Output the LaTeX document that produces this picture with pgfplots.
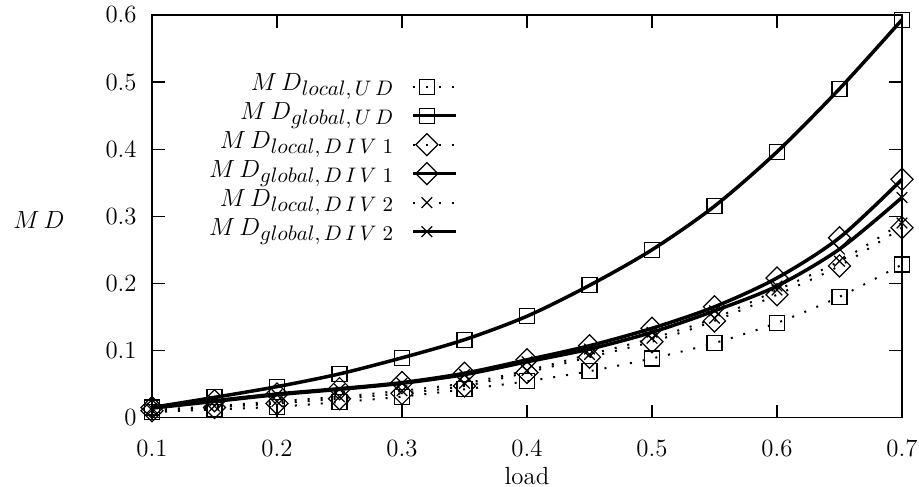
\RequirePackage{fix-cm}
\documentclass[border=0pt]{standalone}
\usepackage{pgfplots}
\pgfplotsset{compat=1.18}
\usepackage{pgfplotstable}

% columns: load, local/global for UD, DIV1, DIV2
\pgfplotstableread{
x     lud    gud    ldA    gdA    ldB    gdB
0.10  0.008  0.015  0.010  0.015  0.011  0.014
0.15  0.012  0.030  0.015  0.025  0.017  0.024
0.20  0.016  0.046  0.021  0.035  0.024  0.034
0.25  0.023  0.065  0.028  0.043  0.031  0.042
0.30  0.031  0.089  0.036  0.052  0.040  0.051
0.35  0.042  0.116  0.047  0.066  0.051  0.064
0.40  0.054  0.151  0.067  0.086  0.070  0.083
0.45  0.069  0.197  0.090  0.107  0.094  0.102
0.50  0.088  0.250  0.113  0.133  0.118  0.127
0.55  0.111  0.315  0.144  0.165  0.148  0.159
0.60  0.141  0.396  0.183  0.208  0.190  0.196
0.65  0.180  0.490  0.226  0.268  0.233  0.251
0.70  0.228  0.593  0.283  0.355  0.290  0.328
}\mdtable

\newcommand\fnt{\fontsize{12.4bp}{14.5bp}\selectfont}
\newcommand\sub[1]{\raisebox{-2.5bp}{\fontsize{10.5bp}{12bp}\selectfont$#1$}}

\begin{document}
\begin{tikzpicture}
\begin{axis}[
    scale only axis,
    width=375bp, height=201.25bp,
    xmin=0.1, xmax=0.7, ymin=0, ymax=0.6,
    xtick={0.1,0.2,0.3,0.4,0.5,0.6,0.7},
    ytick={0,0.1,0.2,0.3,0.4,0.5,0.6},
    tick align=inside,
    major tick length=6.5bp,
    every tick/.style={black, line width=0.6bp},
    axis line style={line width=0.6bp},
    tick label style={font=\fnt},
    label style={font=\fnt},
    xticklabel style={anchor=north, inner sep=0pt, yshift=-11.25bp},
    yticklabel style={anchor=east, inner sep=0pt, xshift=-7.5bp},
    xlabel={load},
    xlabel style={at={(axis description cs:0.5,0)}, anchor=base, inner sep=0pt, yshift=-33.5bp},
    ylabel={$M\,D$},
    ylabel style={rotate=-90, at={(axis description cs:-0.1507,0.491)}, anchor=center, inner sep=0pt},
    clip=false,
    legend cell align=right,
    legend plot pos=right,
    legend style={draw=none, fill=none, font=\fnt,
        at={(rel axis cs:0.408,0.859)}, anchor=north east,
        inner sep=0pt, row sep=0pt, column sep=9bp,
        nodes={inner sep=0pt, text height=9bp, text depth=5.5bp}},
    legend image code/.code={
        \draw[mark repeat=2, mark phase=2, #1]
            plot coordinates {(0bp,0bp) (7bp,0bp) (21.5bp,0bp)};
    },
    loc/.style={black, line width=1bp, dash pattern=on 1bp off 5.5bp, smooth},
    glo/.style={black, line width=1.75bp, smooth},
]

\addplot[loc, mark=square, mark size=3.75bp, mark options={solid, line width=0.6bp}]
    table[x=x, y=lud] {\mdtable};
\addlegendentry{$M\,D$\sub{local,U\,D}}

\addplot[glo, mark=square, mark size=3.75bp, mark options={line width=0.6bp}]
    table[x=x, y=gud] {\mdtable};
\addlegendentry{$M\,D$\sub{global,U\,D}}

\addplot[loc, mark=square, mark size=3.9bp, mark options={solid, rotate=45, line width=0.6bp}]
    table[x=x, y=ldA] {\mdtable};
\addlegendentry{$M\,D$\sub{local,D\,I\,V\;1}}

\addplot[glo, mark=square, mark size=3.9bp, mark options={rotate=45, line width=0.6bp}]
    table[x=x, y=gdA] {\mdtable};
\addlegendentry{$M\,D$\sub{global,D\,I\,V\;1}}

\addplot[loc, mark=x, mark size=3.75bp, mark options={solid, line width=0.6bp}]
    table[x=x, y=ldB] {\mdtable};
\addlegendentry{$M\,D$\sub{local,D\,I\,V\;2}}

\addplot[glo, mark=x, mark size=3.75bp, mark options={line width=0.6bp}]
    table[x=x, y=gdB] {\mdtable};
\addlegendentry{$M\,D$\sub{global,D\,I\,V\;2}}

\coordinate (bbll) at (rel axis cs:-0.20267,-0.17267);
\coordinate (bbur) at (rel axis cs:1.02267,1.03727);
\end{axis}
\pgfresetboundingbox
\path (bbll) rectangle (bbur);
\end{tikzpicture}
\end{document}
